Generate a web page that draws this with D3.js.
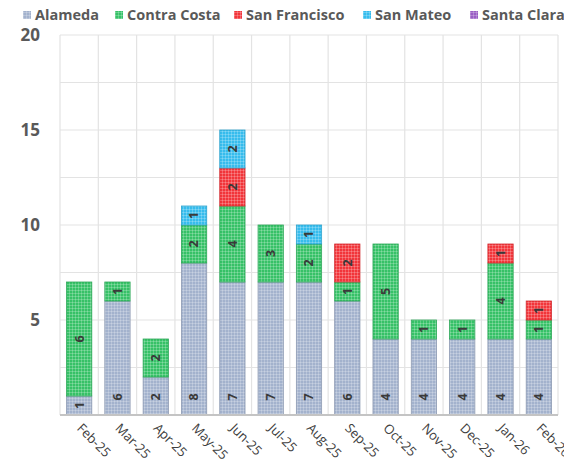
<!DOCTYPE html>
<html>
<head>
<meta charset="utf-8">
<script src="https://cdn.jsdelivr.net/npm/d3@7"></script>
<style>
  body { margin: 0; background: #fff; }
  svg { display: block; font-family: 'Open Sans', sans-serif; }
</style>
</head>
<body>
<svg id="chart" width="564" height="469"></svg>
<script>
const months = ['Feb-25', 'Mar-25', 'Apr-25', 'May-25', 'Jun-25', 'Jul-25', 'Aug-25',
  'Sep-25', 'Oct-25', 'Nov-25', 'Dec-25', 'Jan-26', 'Feb-26'];
const counties = ['Alameda', 'Contra Costa', 'San Francisco', 'San Mateo', 'Santa Clara'];
const alameda = [1, 6, 2, 8, 7, 7, 7, 6, 4, 4, 4, 4, 4];
const contraCosta = [6, 1, 2, 2, 4, 3, 2, 1, 5, 1, 1, 4, 1];
const sanFrancisco = [0, 0, 0, 0, 2, 0, 0, 2, 0, 0, 0, 1, 1];
const sanMateo = [0, 0, 0, 1, 2, 0, 1, 0, 0, 0, 0, 0, 0];
const santaClara = [0, 0, 0, 0, 0, 0, 0, 0, 0, 0, 0, 0, 0];
const yTicks = [5, 10, 15, 20];
const colors = ['#a3b2cd', '#36c167', '#f2353a', '#36bced', '#9a5ec4'];

const seriesValues = [alameda, contraCosta, sanFrancisco, sanMateo, santaClara];
const rows = months.map((m, i) => {
  const row = { month: m };
  counties.forEach((c, k) => { row[c] = seriesValues[k][i]; });
  return row;
});

const svg = d3.select('#chart');
const margin = { left: 60, right: 6, top: 35, bottom: 54 };
const width = 564 - margin.left - margin.right;
const height = 469 - margin.top - margin.bottom;

const x = d3.scaleBand().domain(months).range([0, width]).paddingInner(0.34).paddingOuter(0.17);
const y = d3.scaleLinear().domain([0, 20]).range([height, 0]);
const color = d3.scaleOrdinal().domain(counties).range(colors);

// small grid texture for each series, like the original fills
const defs = svg.append('defs');
counties.forEach((c, k) => {
  const p = defs.append('pattern')
    .attr('id', `pat${k}`)
    .attr('patternUnits', 'userSpaceOnUse')
    .attr('width', 3).attr('height', 3);
  p.append('rect').attr('width', 3).attr('height', 3).attr('fill', colors[k]);
  p.append('rect').attr('width', 3).attr('height', 1).attr('fill', '#fff').attr('opacity', 0.22);
  p.append('rect').attr('width', 1).attr('height', 3).attr('fill', '#fff').attr('opacity', 0.22);
});

const g = svg.append('g').attr('transform', `translate(${margin.left},${margin.top})`);

// grid
const step = x.step();
g.append('g')
  .selectAll('line')
  .data(d3.range(0, 20.1, 2.5))
  .join('line')
  .attr('x1', 0).attr('x2', width)
  .attr('y1', (d) => y(d)).attr('y2', (d) => y(d))
  .attr('stroke', '#e3e3e3').attr('stroke-width', 1.2);
g.append('g')
  .selectAll('line')
  .data(d3.range(0, months.length + 1))
  .join('line')
  .attr('x1', (d) => d * step).attr('x2', (d) => d * step)
  .attr('y1', 0).attr('y2', height)
  .attr('stroke', '#e3e3e3').attr('stroke-width', 1.2);

const stacked = d3.stack().keys(counties)(rows);

const layers = g.selectAll('.layer')
  .data(stacked)
  .join('g')
  .attr('class', 'layer')
  .attr('fill', (d, k) => `url(#pat${k})`)
  .attr('stroke', (d) => d3.color(color(d.key)).darker(0.4))
  .attr('stroke-width', 0.8);

layers.selectAll('rect')
  .data((d) => d.filter((s) => s[1] - s[0] > 0))
  .join('rect')
  .attr('x', (d) => x(d.data.month))
  .attr('width', x.bandwidth())
  .attr('y', (d) => y(d[1]))
  .attr('height', (d) => y(d[0]) - y(d[1]));

// segment labels
layers.each(function (layer, k) {
  d3.select(this).selectAll('text')
    .data(layer.filter((s) => s[1] - s[0] > 0))
    .join('text')
    .attr('stroke', 'none')
    .attr('fill', '#3a3a3a')
    .attr('font-size', 12.5)
    .attr('font-weight', 700)
    .attr('text-anchor', 'middle')
    .attr('dy', '0.35em')
    .attr('transform', (d) => {
      const cx = x(d.data.month) + x.bandwidth() / 2;
      let cy = (y(d[0]) + y(d[1])) / 2;
      if (k === 0) cy = Math.max(cy, y(0) - 18);
      return `translate(${cx},${cy}) rotate(-90)`;
    })
    .text((d) => d[1] - d[0]);
});

// bottom axis line
g.append('line')
  .attr('x1', 0).attr('x2', width)
  .attr('y1', height).attr('y2', height)
  .attr('stroke', '#c4c4c4').attr('stroke-width', 2);

// y labels
g.append('g')
  .selectAll('text')
  .data(yTicks)
  .join('text')
  .attr('x', -20)
  .attr('y', (d) => y(d))
  .attr('dy', '0.35em')
  .attr('text-anchor', 'end')
  .attr('font-size', 17)
  .attr('font-weight', 700)
  .attr('fill', '#595959')
  .text((d) => d);

// x labels
g.append('g')
  .selectAll('text')
  .data(months)
  .join('text')
  .attr('transform', (d) => `translate(${x(d) + x.bandwidth() / 2 - 3},${height + 14}) rotate(45)`)
  .attr('font-size', 13)
  .attr('fill', '#404040')
  .text((d) => d);

// legend
const legendX = [23, 115, 234, 363, 470];
const legend = svg.append('g')
  .selectAll('g')
  .data(counties)
  .join('g')
  .attr('transform', (d, i) => `translate(${legendX[i]},15)`);
legend.append('rect')
  .attr('x', 0).attr('y', -4)
  .attr('width', 8).attr('height', 8)
  .attr('fill', (d, k) => `url(#pat${k})`);
legend.append('text')
  .attr('x', 12)
  .attr('dy', '0.36em')
  .attr('font-size', 14.5)
  .attr('font-weight', 700)
  .attr('fill', '#595959')
  .text((d) => d);
</script>
</body>
</html>
